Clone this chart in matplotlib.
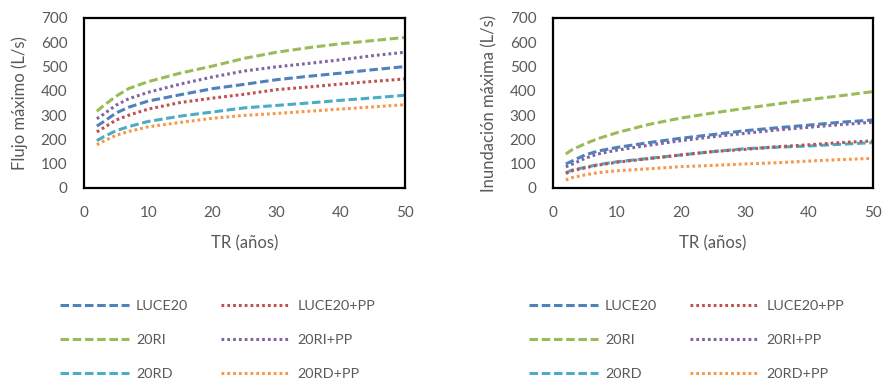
import matplotlib
matplotlib.use("Agg")
import matplotlib.pyplot as plt

# Return period (years)
tr = [2, 3, 5, 7, 10, 15, 20, 25, 30, 35, 40, 45, 50]

# Left panel: peak flow (L/s)
flujo = {
    "LUCE20":    [255, 272, 309, 333, 358, 384, 409, 427, 446, 460, 473, 487, 500],
    "LUCE20+PP": [231, 247, 280, 300, 325, 352, 370, 386, 405, 416, 428, 439, 449],
    "20RI":      [316, 338, 378, 410, 438, 473, 502, 534, 559, 578, 594, 607, 620],
    "20RI+PP":   [285, 303, 341, 368, 394, 428, 457, 482, 499, 513, 528, 545, 559],
    "20RD":      [195, 210, 236, 253, 274, 296, 313, 330, 340, 350, 361, 371, 382],
    "20RD+PP":   [178, 192, 217, 233, 252, 270, 287, 299, 307, 316, 325, 334, 343],
}

# Right panel: peak flooding (L/s)
inund = {
    "LUCE20":    [99, 111, 136, 152, 167, 187, 205, 220, 236, 248, 259, 271, 280],
    "LUCE20+PP": [60, 71, 83, 94, 106, 121, 136, 150, 159, 170, 178, 187, 194],
    "20RI":      [140, 158, 182, 203, 228, 262, 288, 309, 328, 346, 364, 380, 397],
    "20RI+PP":   [87, 98, 122, 140, 156, 176, 195, 211, 225, 239, 250, 261, 271],
    "20RD":      [63, 74, 85, 96, 108, 122, 136, 150, 162, 168, 173, 180, 187],
    "20RD+PP":   [33, 43, 54, 63, 71, 79, 88, 93, 99, 104, 111, 117, 122],
}

DASH = (0, (2.8, 1.2))
DOT = (0, (0.9, 1.0))
STYLE = {
    "LUCE20":    ("#4F81BD", DASH),
    "LUCE20+PP": ("#C0504D", DOT),
    "20RI":      ("#9BBB59", DASH),
    "20RI+PP":   ("#8064A2", DOT),
    "20RD":      ("#4BACC6", DASH),
    "20RD+PP":   ("#F79646", DOT),
}
# legend fills column by column: dashed series left, dotted right
ORDER = ["LUCE20", "20RI", "20RD", "LUCE20+PP", "20RI+PP", "20RD+PP"]

GREY = "#595959"
plt.rcParams["font.family"] = ["Lato", "DejaVu Sans"]

W, H = 884, 381
fig = plt.figure(figsize=(W / 100, H / 100), dpi=100)
panels = [
    (flujo, "Flujo máximo (L/s)", 84, 405),
    (inund, "Inundación máxima (L/s)", 553, 873),
]

for data, ylab, x0, x1 in panels:
    ax = fig.add_axes([x0 / W, 1 - 188 / H, (x1 - x0) / W, (188 - 18) / H])
    for name in ORDER:
        col, ls = STYLE[name]
        ax.plot(tr, data[name], color=col, linestyle=ls, linewidth=2.2,
                label=name, dash_capstyle="butt")
    ax.set_xlim(0, 50)
    ax.set_ylim(0, 700)
    ax.set_xticks(range(0, 51, 10))
    ax.set_yticks(range(0, 701, 100))
    ax.tick_params(length=0, labelsize=11, colors=GREY)
    ax.tick_params(axis="x", pad=13)
    ax.tick_params(axis="y", pad=12)
    for s in ax.spines.values():
        s.set_color("black")
        s.set_linewidth(1.6)
    ax.set_xlabel("TR (años)", fontsize=12, color=GREY, labelpad=11)
    ax.set_ylabel(ylab, fontsize=12, color=GREY, labelpad=9)
    ax.legend(loc="upper left", bbox_to_anchor=((x0 - 24) / W, 1 - 300 / H),
              bbox_transform=fig.transFigure,
              ncol=2, frameon=False, fontsize=10.4, labelcolor=GREY,
              handlelength=4.78, handletextpad=0.48, columnspacing=2.29,
              labelspacing=1.52, borderpad=0, borderaxespad=0)

fig.savefig("out.png", dpi=100)
